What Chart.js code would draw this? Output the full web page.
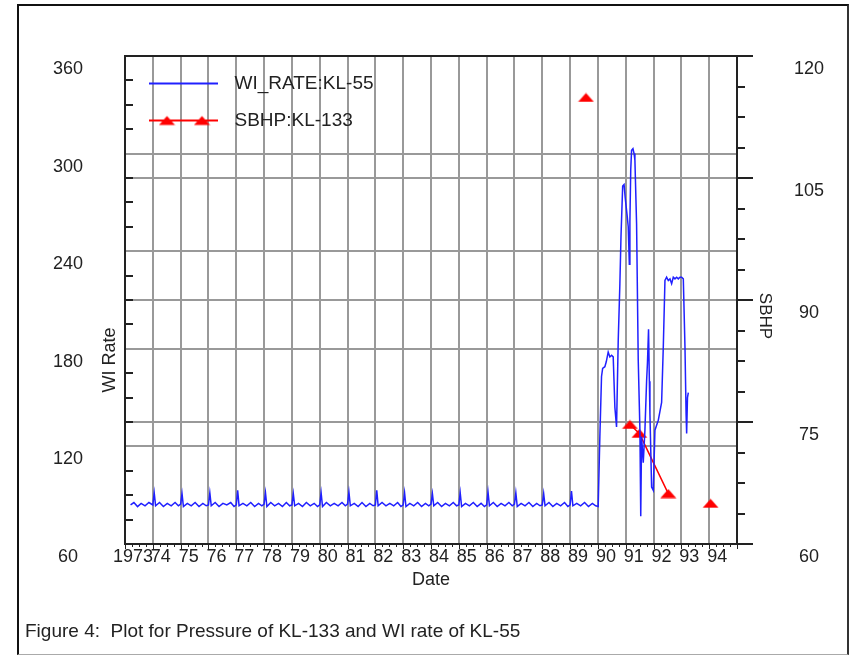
<!DOCTYPE html>
<html>
<head>
<meta charset="utf-8">
<script src="https://cdn.jsdelivr.net/npm/chart.js@4.4.1/dist/chart.umd.min.js"></script>
<style>
  html, body { margin: 0; padding: 0; background: #fff; }
  #wrap { position: relative; width: 856px; height: 658px; overflow: hidden; }
  #frame { position: absolute; left: 17px; top: 4px; width: 828px; height: 648px;
           border-left: 2px solid #111; border-top: 2px solid #111;
           border-right: 2px solid #333; border-bottom: 1px solid #aaa; }
  #c { position: absolute; left: 0; top: 0; }
  #caption { position: absolute; left: 25px; top: 620px; color: #222;
             font: 19px "Liberation Sans", Arial, sans-serif; white-space: pre; }
</style>
</head>
<body>
<div id="wrap">
  <div id="frame"></div>
  <canvas id="c" width="856" height="658"></canvas>
  <div id="caption">Figure 4:  Plot for Pressure of KL-133 and WI rate of KL-55</div>
</div>
<script>
// WI_RATE:KL-55, decimal year vs rate (left axis)
const wiDates = [
  1973.20, 1973.32, 1973.45, 1973.58, 1973.72, 1973.86,
  1974.00, 1974.05, 1974.10, 1974.24, 1974.38, 1974.52, 1974.66, 1974.80, 1974.92,
  1975.00, 1975.05, 1975.10, 1975.24, 1975.38, 1975.52, 1975.66, 1975.80, 1975.92,
  1976.00, 1976.05, 1976.10, 1976.24, 1976.38, 1976.52, 1976.66, 1976.80, 1976.92,
  1977.00, 1977.05, 1977.10, 1977.24, 1977.38, 1977.52, 1977.66, 1977.80, 1977.92,
  1978.00, 1978.05, 1978.10, 1978.24, 1978.38, 1978.52, 1978.66, 1978.80, 1978.92,
  1979.00, 1979.05, 1979.10, 1979.24, 1979.38, 1979.52, 1979.66, 1979.80, 1979.92,
  1980.00, 1980.05, 1980.10, 1980.24, 1980.38, 1980.52, 1980.66, 1980.80, 1980.92,
  1981.00, 1981.05, 1981.10, 1981.24, 1981.38, 1981.52, 1981.66, 1981.80, 1981.92,
  1982.00, 1982.05, 1982.10, 1982.24, 1982.38, 1982.52, 1982.66, 1982.80, 1982.92,
  1983.00, 1983.05, 1983.10, 1983.24, 1983.38, 1983.52, 1983.66, 1983.80, 1983.92,
  1984.00, 1984.05, 1984.10, 1984.24, 1984.38, 1984.52, 1984.66, 1984.80, 1984.92,
  1985.00, 1985.05, 1985.10, 1985.24, 1985.38, 1985.52, 1985.66, 1985.80, 1985.92,
  1986.00, 1986.05, 1986.10, 1986.24, 1986.38, 1986.52, 1986.66, 1986.80, 1986.92,
  1987.00, 1987.05, 1987.10, 1987.24, 1987.38, 1987.52, 1987.66, 1987.80, 1987.92,
  1988.00, 1988.05, 1988.10, 1988.24, 1988.38, 1988.52, 1988.66, 1988.80, 1988.92,
  1989.00, 1989.05, 1989.10, 1989.24, 1989.38, 1989.52, 1989.66, 1989.80, 1989.92,
  1990.01, 1990.07, 1990.13, 1990.17, 1990.25, 1990.30, 1990.37, 1990.43, 1990.49, 1990.55,
  1990.61, 1990.67, 1990.73, 1990.79, 1990.83, 1990.89, 1990.94, 1990.98,
  1991.05, 1991.09, 1991.13, 1991.15, 1991.18, 1991.21, 1991.26, 1991.30, 1991.33, 1991.39,
  1991.45, 1991.51, 1991.54, 1991.57, 1991.60, 1991.63, 1991.69, 1991.75, 1991.78, 1991.82,
  1991.85, 1991.87, 1991.93, 1991.99,
  1992.05, 1992.11, 1992.17, 1992.29, 1992.35, 1992.41, 1992.47, 1992.53, 1992.59, 1992.65,
  1992.71, 1992.77, 1992.83, 1992.89, 1992.95,
  1993.01, 1993.07, 1993.13, 1993.17, 1993.19, 1993.22, 1993.25
];
const wiRates = [
  84, 85.5, 83, 85, 83.5, 85.5,
  84, 91.5, 83.5, 85.5, 83, 85, 83.5, 85.5, 83.5,
  84.5, 91, 83, 85, 83.5, 85.5, 83, 85, 83.5,
  84, 91.5, 83.5, 85.5, 83, 85, 84, 85.5, 83,
  84, 93, 83.5, 85, 83.5, 85.5, 83, 85, 83.5,
  84.5, 91.5, 83, 85.5, 83.5, 85, 83, 85.5, 83.5,
  84, 91, 83.5, 85, 83, 85.5, 83.5, 85, 83,
  84, 91.5, 83, 85.5, 83.5, 85, 83.5, 85.5, 83.5,
  84.5, 92, 83.5, 85, 83, 85.5, 83, 85, 83.5,
  84, 93, 83.5, 85.5, 83.5, 85, 83.5, 85.5, 83,
  84, 91.5, 83, 85, 83.5, 85.5, 83, 85, 83.5,
  84.5, 91, 83.5, 85.5, 83, 85, 83.5, 85.5, 83.5,
  84, 91.5, 83, 85, 83.5, 85.5, 83, 85, 83,
  84, 92, 83.5, 85.5, 83, 85, 83.5, 85.5, 83.5,
  84.5, 91.5, 83, 85, 83.5, 85.5, 83, 85, 83.5,
  84, 91, 83.5, 85.5, 83, 85, 83.5, 85.5, 83,
  84, 92.5, 83.5, 85, 83.5, 85.5, 83, 85, 83.5,
  83, 126, 163, 168, 169, 172, 178, 175, 176, 175,
  144, 132, 185, 220, 249, 280, 281, 273,
  262, 255, 232, 258, 290, 302, 303, 300, 296, 257,
  173, 130, 77, 126, 118, 110, 130, 160, 171, 192,
  160, 140, 95, 93,
  130, 133, 136, 147, 181, 222, 224, 222, 223, 220,
  224, 223, 224, 223, 224,
  224, 223, 181, 140, 128, 150, 153
];

// SBHP:KL-133, decimal year vs pressure (right axis); null breaks the line
const sbhpDates = [1989.57, 1990.40, 1991.15, 1991.49, 1992.53, 1993.30, 1994.05];
const sbhpValues = [114.9, null, 74.7, 73.6, 66.2, null, 65.0];

const yearTicks = [1973, 1974, 1975, 1976, 1977, 1978, 1979, 1980, 1981, 1982, 1983,
  1984, 1985, 1986, 1987, 1988, 1989, 1990, 1991, 1992, 1993, 1994, 1995];
const yearLabels = ['1973', '74', '75', '76', '77', '78', '79', '80', '81', '82', '83',
  '84', '85', '86', '87', '88', '89', '90', '91', '92', '93', '94', ''];

const FONT = '"Liberation Sans", Arial, sans-serif';
const TXT = '#222';

// flat red triangle used as marker
function makeTriangle() {
  const c = document.createElement('canvas');
  c.width = 17; c.height = 10;
  const g = c.getContext('2d');
  g.fillStyle = '#ff0000';
  g.beginPath();
  g.moveTo(8.5, 0.5); g.lineTo(16.5, 9.5); g.lineTo(0.5, 9.5); g.closePath();
  g.fill();
  return c;
}
const tri = makeTriangle();

// legend swatches: line (plus markers for SBHP)
function makeSwatch(color, withMarkers) {
  const c = document.createElement('canvas');
  c.width = 82; c.height = 12;
  const g = c.getContext('2d');
  g.strokeStyle = color;
  g.lineWidth = 2;
  g.beginPath(); g.moveTo(6, 6); g.lineTo(75, 6); g.stroke();
  if (withMarkers) {
    g.drawImage(tri, 24 - 8.5, 1);
    g.drawImage(tri, 59 - 8.5, 1);
  }
  return c;
}
const swatches = [makeSwatch('#2020ff', false), makeSwatch('#ff0000', true)];

// vertical axes: width fixed, no extra top/bottom padding from the tick padding
const fitWidth = w => s => { s.width = w; s.paddingTop = 0; s.paddingBottom = 0; };

const axisDecor = {
  id: 'axisDecor',
  afterLayout(chart) {
    // keep the in-plot legend inside the plot frame
    const lg = chart.legend;
    lg.top = chart.chartArea.top;
    lg.bottom = lg.top + lg.height;
  },
  afterDraw(chart) {
    const { ctx, chartArea: a, scales: { x, y, y2 } } = chart;
    ctx.save();
    ctx.strokeStyle = '#222';
    ctx.lineWidth = 2;
    ctx.beginPath();
    for (let v = 75; v < 360; v += 15) {
      if (v % 60 === 0) continue;
      const py = Math.round(y.getPixelForValue(v));
      ctx.moveTo(a.left, py); ctx.lineTo(a.left + 8, py);
    }
    for (let k = 0; k <= 16; k++) {
      const py = Math.round(y2.getPixelForValue(60 + k * 3.75));
      ctx.moveTo(a.right, py); ctx.lineTo(a.right + (k % 4 ? 8 : 16), py);
    }
    ctx.stroke();
    ctx.lineWidth = 1;
    ctx.beginPath();
    for (let k = 0; k <= 88; k++) {
      const px = Math.round(x.getPixelForValue(1973 + k / 4)) + 0.5;
      ctx.moveTo(px, a.bottom); ctx.lineTo(px, a.bottom + (k % 4 ? 3 : 5));
    }
    ctx.stroke();
    ctx.lineWidth = 2;
    ctx.strokeRect(a.left, a.top, a.right - a.left, a.bottom - a.top);

    ctx.fillStyle = TXT;
    ctx.textAlign = 'center';
    ctx.textBaseline = 'middle';
    ctx.font = '18px ' + FONT;
    ctx.save();
    ctx.translate(a.left - 15, 360);
    ctx.rotate(-Math.PI / 2);
    ctx.fillText('WI Rate', 0, 0);
    ctx.restore();
    ctx.font = '17px ' + FONT;
    ctx.save();
    ctx.translate(a.right + 28, 316);
    ctx.rotate(Math.PI / 2);
    ctx.fillText('SBHP', 0, 0);
    ctx.restore();
    ctx.restore();
  }
};

new Chart(document.getElementById('c'), {
  type: 'line',
  data: {
    datasets: [{
      label: 'WI_RATE:KL-55',
      data: wiDates.map((d, i) => ({ x: d, y: wiRates[i] })),
      yAxisID: 'y',
      borderColor: '#2020ff',
      borderWidth: 1.5,
      pointRadius: 0,
      tension: 0,
    }, {
      label: 'SBHP:KL-133',
      data: sbhpDates.map((d, i) => ({ x: d, y: sbhpValues[i] })),
      yAxisID: 'y2',
      borderColor: '#ff0000',
      borderWidth: 1.5,
      pointStyle: tri,
      pointRadius: 8,
      spanGaps: false,
      tension: 0,
    }]
  },
  options: {
    responsive: false,
    animation: false,
    layout: { padding: { left: 25, right: 20, top: 56, bottom: 67 } },
    plugins: {
      tooltip: { enabled: false },
      legend: {
        position: 'chartArea',
        align: 'start',
        labels: {
          usePointStyle: true,
          pointStyleWidth: 82,
          padding: 18,
          color: TXT,
          font: { family: FONT, size: 19 },
          generateLabels: chart => Chart.defaults.plugins.legend.labels.generateLabels(chart)
            .map((it, i) => Object.assign(it, { pointStyle: swatches[i] })),
        }
      }
    },
    scales: {
      x: {
        type: 'linear',
        min: 1973,
        max: 1995,
        afterFit: s => { s.height = 47; },
        afterBuildTicks: s => { s.ticks = yearTicks.map(v => ({ value: v })); },
        grid: { color: '#999', lineWidth: 2, drawTicks: false },
        border: { color: '#222', width: 2 },
        ticks: {
          autoSkip: false, maxRotation: 0, minRotation: 0,
          padding: 2, labelOffset: 8, color: TXT,
          font: { family: FONT, size: 18 },
          callback: v => yearLabels[yearTicks.indexOf(v)],
        },
        title: { display: true, text: 'Date', color: TXT, font: { family: FONT, size: 18 }, padding: 0 },
      },
      y: {
        position: 'left',
        min: 60,
        max: 360,
        afterFit: fitWidth(100),
        grid: { color: '#999', lineWidth: 2, drawTicks: false },
        border: { color: '#222', width: 2 },
        ticks: {
          stepSize: 60, padding: 42, labelOffset: 13, crossAlign: 'center', color: TXT,
          font: { family: FONT, size: 18 },
        },
      },
      y2: {
        position: 'right',
        min: 60,
        max: 120,
        afterFit: fitWidth(99),
        grid: { color: '#999', lineWidth: 2, drawTicks: false },
        border: { color: '#222', width: 2 },
        ticks: {
          stepSize: 15, padding: 57, labelOffset: 13, crossAlign: 'center', color: TXT,
          font: { family: FONT, size: 18 },
        },
      }
    }
  },
  plugins: [axisDecor]
});
</script>
</body>
</html>
